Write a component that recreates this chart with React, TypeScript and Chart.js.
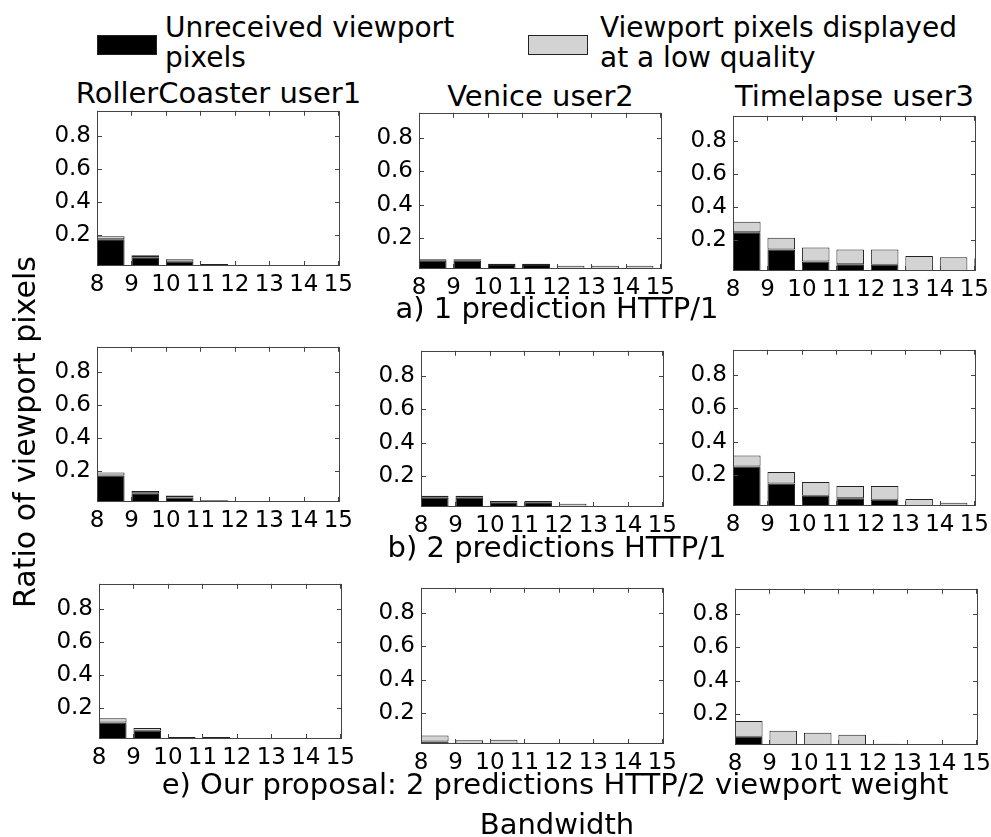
import React, { useEffect, useRef } from "react";
import { Chart, registerables } from "chart.js";

Chart.register(...registerables);

// ---------- data ----------
const bandwidths = [8, 9, 10, 11, 12, 13, 14, 15];
const yTickValues = [0.2, 0.4, 0.6, 0.8];
const yMin = 0.015;
const yMax = 0.95;
const xMax = 15.05;

const legendLabels = ["Unreceived viewport\npixels", "Viewport pixels displayed\nat a low quality"];
const columnTitles = ["RollerCoaster user1", "Venice user2", "Timelapse user3"];
const rowCaptions = [
  "a) 1 prediction HTTP/1",
  "b) 2 predictions HTTP/1",
  "e) Our proposal: 2 predictions HTTP/2 viewport weight",
];
const xAxisTitle = "Bandwidth";
const yAxisTitle = "Ratio of viewport pixels";

// row a) 1 prediction HTTP/1
const aRollerUnreceived = [0.176, 0.067, 0.041, 0.012, 0.01, 0.01, 0.01, 0];
const aRollerLowQuality = [0.018, 0.013, 0.014, 0.015, 0.01, 0.01, 0.01, 0];
const aVeniceUnreceived = [0.064, 0.064, 0.039, 0.039, 0, 0, 0, 0];
const aVeniceLowQuality = [0.01, 0.01, 0.008, 0.008, 0.035, 0.035, 0.035, 0.034];
const aTimelapseUnreceived = [0.249, 0.145, 0.072, 0.056, 0.053, 0, 0, 0];
const aTimelapseLowQuality = [0.063, 0.071, 0.085, 0.089, 0.092, 0.106, 0.098, 0.092];

// row b) 2 predictions HTTP/1
const bRollerUnreceived = [0.175, 0.068, 0.042, 0.012, 0.008, 0, 0, 0];
const bRollerLowQuality = [0.017, 0.013, 0.012, 0.013, 0.011, 0, 0, 0];
const bVeniceUnreceived = [0.071, 0.071, 0.044, 0.044, 0, 0, 0, 0];
const bVeniceLowQuality = [0.012, 0.012, 0.007, 0.007, 0.034, 0, 0, 0];
const bTimelapseUnreceived = [0.251, 0.149, 0.076, 0.061, 0.053, 0, 0, 0];
const bTimelapseLowQuality = [0.067, 0.069, 0.083, 0.074, 0.082, 0.057, 0.035, 0];

// row e) our proposal
const eRollerUnreceived = [0.115, 0.065, 0, 0, 0, 0, 0, 0];
const eRollerLowQuality = [0.025, 0.017, 0.027, 0.027, 0, 0, 0, 0];
const eVeniceUnreceived = [0.03, 0, 0, 0, 0, 0, 0, 0];
const eVeniceLowQuality = [0.036, 0.037, 0.04, 0, 0, 0, 0, 0];
const eTimelapseUnreceived = [0.064, 0, 0, 0, 0, 0, 0, 0];
const eTimelapseLowQuality = [0.094, 0.1, 0.088, 0.076, 0.022, 0, 0, 0];

// ---------- layout ----------
const FONT = "'DejaVu Sans', 'Liberation Sans', sans-serif";
const TICK_SIZE = 23;
const PAD_L = 60; // y-axis box width
const PAD_T = 16;
const PAD_R = 22;
const PAD_B = 36; // x-axis box height

type Box = { l: number; t: number; w: number; h: number };

const panels: { box: Box; unreceived: number[]; lowQuality: number[] }[] = [
  { box: { l: 97, t: 107, w: 243, h: 159 }, unreceived: aRollerUnreceived, lowQuality: aRollerLowQuality },
  { box: { l: 419, t: 109, w: 243, h: 160 }, unreceived: aVeniceUnreceived, lowQuality: aVeniceLowQuality },
  { box: { l: 733, t: 112, w: 243, h: 159 }, unreceived: aTimelapseUnreceived, lowQuality: aTimelapseLowQuality },
  { box: { l: 97, t: 343, w: 243, h: 159 }, unreceived: bRollerUnreceived, lowQuality: bRollerLowQuality },
  { box: { l: 421, t: 347, w: 243, h: 160 }, unreceived: bVeniceUnreceived, lowQuality: bVeniceLowQuality },
  { box: { l: 733, t: 346, w: 243, h: 160 }, unreceived: bTimelapseUnreceived, lowQuality: bTimelapseLowQuality },
  { box: { l: 99, t: 580, w: 243, h: 159 }, unreceived: eRollerUnreceived, lowQuality: eRollerLowQuality },
  { box: { l: 421, t: 584, w: 243, h: 160 }, unreceived: eVeniceUnreceived, lowQuality: eVeniceLowQuality },
  { box: { l: 735, t: 585, w: 243, h: 160 }, unreceived: eTimelapseUnreceived, lowQuality: eTimelapseLowQuality },
];

const FRAME = "#444";

const frameTicksPlugin = {
  id: "frameTicks",
  afterDatasetsDraw(chart: any) {
    const { ctx, chartArea, scales } = chart;
    const { left, right, top, bottom } = chartArea;
    const x = scales.x;
    const y = scales.y;
    ctx.save();
    ctx.strokeStyle = FRAME;
    ctx.lineWidth = 1;
    ctx.beginPath();
    x.ticks.forEach((t: any) => {
      const px = Math.round(x.getPixelForValue(t.value)) + 0.5;
      ctx.moveTo(px, top);
      ctx.lineTo(px, top + 5);
      ctx.moveTo(px, bottom);
      ctx.lineTo(px, bottom - 5);
    });
    y.ticks.forEach((t: any) => {
      const py = Math.round(y.getPixelForValue(t.value)) + 0.5;
      ctx.moveTo(left, py);
      ctx.lineTo(left + 5, py);
      ctx.moveTo(right, py);
      ctx.lineTo(right - 5, py);
    });
    ctx.stroke();
    ctx.strokeRect(Math.round(left) + 0.5, Math.round(top) + 0.5, Math.round(right - left) - 1, Math.round(bottom - top) - 1);
    ctx.restore();
  },
};

function Panel({ box, unreceived, lowQuality }: { box: Box; unreceived: number[]; lowQuality: number[] }) {
  const ref = useRef<HTMLCanvasElement>(null);
  const cw = box.w + PAD_L + PAD_R;
  const ch = box.h + PAD_T + PAD_B;
  useEffect(() => {
    // bars are edge-aligned (width 0.8) starting at each bandwidth value, as in matplotlib
    const toPoints = (vals: number[]) => bandwidths.map((b, i) => ({ x: b + 0.4, y: vals[i] }));
    const chart = new Chart(ref.current!, {
      type: "bar",
      data: {
        datasets: [
          {
            label: legendLabels[0],
            data: toPoints(unreceived),
            backgroundColor: "#000000",
            borderColor: "#222222",
            borderWidth: 1,
            borderSkipped: false,
            barPercentage: 0.8,
            categoryPercentage: 1,
            clip: 0,
          } as any,
          {
            label: legendLabels[1],
            data: toPoints(lowQuality),
            backgroundColor: "#d3d3d3",
            borderColor: "#222222",
            borderWidth: 1,
            borderSkipped: false,
            barPercentage: 0.8,
            categoryPercentage: 1,
            clip: 0,
          } as any,
        ],
      },
      options: {
        responsive: false,
        animation: false,
        events: [],
        layout: { padding: { left: 0, top: PAD_T, right: PAD_R, bottom: 0 } },
        plugins: { legend: { display: false }, tooltip: { enabled: false }, title: { display: false } },
        scales: {
          x: {
            type: "linear",
            stacked: true,
            offset: false,
            min: bandwidths[0],
            max: xMax,
            grid: { display: false, drawTicks: false, offset: false },
            border: { display: false },
            afterBuildTicks: (s: any) => {
              s.ticks = bandwidths.map((v) => ({ value: v }));
            },
            afterFit: (s: any) => {
              s.height = PAD_B;
            },
            ticks: {
              autoSkip: false,
              maxRotation: 0,
              minRotation: 0,
              padding: 5,
              color: "#000",
              font: { family: FONT, size: TICK_SIZE },
              callback: (v: any) => String(v),
            },
          },
          y: {
            type: "linear",
            stacked: true,
            min: yMin,
            max: yMax,
            grid: { display: false, drawTicks: false },
            border: { display: false },
            afterBuildTicks: (s: any) => {
              s.ticks = yTickValues.map((v) => ({ value: v }));
            },
            afterFit: (s: any) => {
              s.width = PAD_L;
            },
            ticks: {
              padding: 6,
              color: "#000",
              font: { family: FONT, size: TICK_SIZE },
              callback: (v: any) => Number(v).toFixed(1),
            },
          },
        },
      } as any,
      plugins: [frameTicksPlugin],
    });
    return () => chart.destroy();
  }, []);
  return (
    <canvas
      ref={ref}
      width={cw}
      height={ch}
      style={{ position: "absolute", left: box.l - PAD_L, top: box.t - PAD_T, width: cw, height: ch }}
    />
  );
}

const textBase: React.CSSProperties = {
  position: "absolute",
  fontFamily: FONT,
  color: "#000",
  whiteSpace: "pre",
  margin: 0,
};

function Centered({ text, cx, top, size }: { text: string; cx: number; top: number; size: number }) {
  return (
    <div style={{ ...textBase, left: cx - 400, width: 800, top, fontSize: size, lineHeight: `${size}px`, textAlign: "center" }}>
      {text}
    </div>
  );
}

export default function App() {
  const colCenters = [panels[0], panels[1], panels[2]].map((p) => p.box.l + p.box.w / 2);
  return (
    <div style={{ position: "absolute", left: 0, top: 0, width: 991, height: 837, background: "#fff", overflow: "hidden" }}>
      {/* legend */}
      <div style={{ position: "absolute", left: 97, top: 35, width: 60, height: 20, background: "#000", boxSizing: "border-box", border: "1px solid #222" }} />
      <div style={{ ...textBase, left: 165, top: 13, fontSize: 28, lineHeight: "30px" }}>{legendLabels[0]}</div>
      <div style={{ position: "absolute", left: 528, top: 35, width: 60, height: 20, background: "#d3d3d3", boxSizing: "border-box", border: "1px solid #222" }} />
      <div style={{ ...textBase, left: 600, top: 13, fontSize: 28, lineHeight: "30px" }}>{legendLabels[1]}</div>

      {/* column titles */}
      <Centered text={columnTitles[0]} cx={colCenters[0]} top={79} size={29} />
      <Centered text={columnTitles[1]} cx={colCenters[1]} top={82} size={29} />
      <Centered text={columnTitles[2]} cx={colCenters[2]} top={82} size={29} />

      {panels.map((p, i) => (
        <Panel key={i} box={p.box} unreceived={p.unreceived} lowQuality={p.lowQuality} />
      ))}

      {/* row captions */}
      <Centered text={rowCaptions[0]} cx={557} top={294} size={29} />
      <Centered text={rowCaptions[1]} cx={557} top={533} size={29} />
      <Centered text={rowCaptions[2]} cx={555} top={770} size={29} />
      <Centered text={xAxisTitle} cx={557} top={810} size={29} />

      {/* y axis title */}
      <div
        style={{
          ...textBase,
          left: 25 - 250,
          top: 432 - 15,
          width: 500,
          height: 30,
          fontSize: 30,
          lineHeight: "30px",
          textAlign: "center",
          transform: "rotate(-90deg)",
        }}
      >
        {yAxisTitle}
      </div>
    </div>
  );
}
